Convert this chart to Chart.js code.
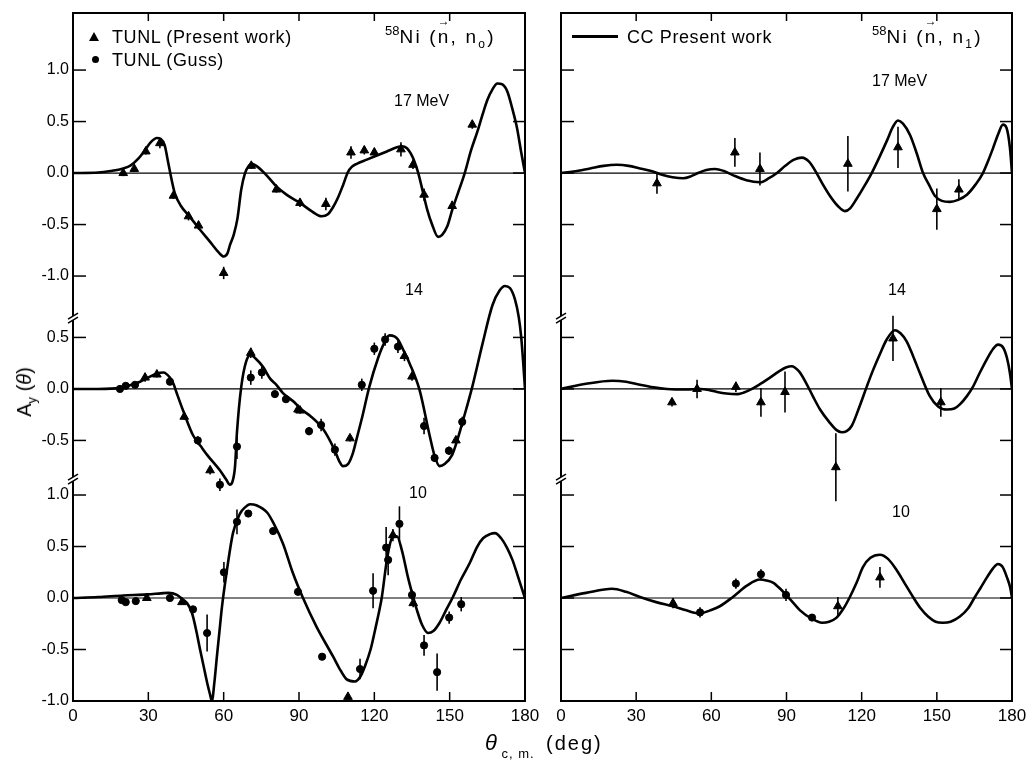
<!DOCTYPE html>
<html>
<head>
<meta charset="utf-8">
<title>58Ni analyzing power</title>
<script src="https://cdn.jsdelivr.net/npm/chart.js@4.4.1/dist/chart.umd.min.js"></script>
<style>
  body { margin: 0; background: #fff; }
  #page { position: relative; width: 1029px; height: 761px; overflow: hidden;
          font-family: "Liberation Sans", Arial, sans-serif; color: #000; }
  canvas { position: absolute; top: 0; }
  .t { position: absolute; white-space: nowrap; line-height: 1; }
  .sub { font-size: 12px; position: relative; top: 5px; }
  .sup { font-size: 13px; position: relative; top: -8px; letter-spacing: 0; }
  .ttl { font-size: 19px; letter-spacing: 2.2px; }
  .vec { position: relative; }
  .vec b { position: absolute; left: 0; top: -11px; font-size: 12px; font-weight: normal; }
</style>
</head>
<body>
<div id="page">
  <canvas id="chartN0" width="540" height="761" style="left:0"></canvas>
  <canvas id="chartN1" width="489" height="761" style="left:540px"></canvas>

  <!-- legend, left panel -->
  <div class="t" style="left:89px;top:32px;width:0;height:0;border-left:5px solid transparent;border-right:5px solid transparent;border-bottom:9px solid #000"></div>
  <div class="t" style="left:112px;top:28px;font-size:18px;letter-spacing:0.6px">TUNL (Present work)</div>
  <div class="t" style="left:92px;top:56px;width:7px;height:7px;border-radius:50%;background:#000"></div>
  <div class="t" style="left:112px;top:51px;font-size:18px;letter-spacing:0.6px">TUNL (Guss)</div>
  <div class="t ttl" style="left:385px;top:27px"><span class="sup">58</span>Ni (<span class="vec">n<b>&#8594;</b></span>, n<span class="sub">o</span>)</div>

  <!-- legend, right panel -->
  <div class="t" style="left:572px;top:35px;width:46px;height:3px;background:#000"></div>
  <div class="t" style="left:627px;top:28px;font-size:18px;letter-spacing:0.6px">CC Present work</div>
  <div class="t ttl" style="left:872px;top:27px"><span class="sup">58</span>Ni (<span class="vec">n<b>&#8594;</b></span>, n<span class="sub">1</span>)</div>

  <!-- energies -->
  <div class="t" style="left:394px;top:93px;font-size:16px">17 MeV</div>
  <div class="t" style="left:405px;top:282px;font-size:16px">14</div>
  <div class="t" style="left:409px;top:485px;font-size:16px">10</div>
  <div class="t" style="left:872px;top:73px;font-size:16px">17 MeV</div>
  <div class="t" style="left:888px;top:282px;font-size:16px">14</div>
  <div class="t" style="left:892px;top:504px;font-size:16px">10</div>

  <!-- axis titles -->
  <div class="t" style="left:24px;top:392px;font-size:20px;transform:translate(-50%,-50%) rotate(-90deg)">A<span class="sub" style="font-size:13px">y</span> (<i>&#952;</i>)</div>
  <div class="t" style="left:485px;top:732px;font-size:22px"><i>&#952;</i><span class="sub" style="font-size:13px;top:8px;letter-spacing:1px"> c, m.</span></div>
  <div class="t" style="left:546px;top:733px;font-size:20px;letter-spacing:2px">(deg)</div>
</div>

<script>
var angleTicks = [0, 30, 60, 90, 120, 150, 180];
var yMin = -1.0, yMax = 5.68;
// each energy block sits on the shared axis at its own zero
var shift17 = 4.126, shift14 = 2.03, shift10 = 0;
var localTicks17 = [-1.0, -0.5, 0.0, 0.5, 1.0];
var localTicks14 = [-0.5, 0.0, 0.5];
var localTicks10 = [-1.0, -0.5, 0.0, 0.5, 1.0];
var breakMarks = [1.155, 2.718];

// ---- 58Ni(n,n0) : CC curves [angle, Ay]
var n0Curve17 = [[0,0],[10,0.005],[15,0.02],[20,0.045],[23,0.075],[26,0.14],[28,0.2],[31,0.3],[33.4,0.34],[35,0.33],[36.5,0.27],[38,0.09],[39.4,-0.08],[40.6,-0.2],[43,-0.32],[46,-0.41],[50.6,-0.55],[55,-0.68],[58,-0.77],[60,-0.81],[61.5,-0.78],[62.5,-0.7],[64,-0.6],[65.5,-0.44],[67,-0.16],[68.5,0.0],[70,0.07],[71,0.09],[73,0.07],[77,-0.02],[81,-0.13],[85,-0.21],[90.4,-0.29],[95,-0.37],[99,-0.42],[101.5,-0.4],[103.6,-0.33],[105.5,-0.24],[107.5,-0.12],[109.5,0.01],[111,0.06],[113,0.09],[117,0.13],[121,0.17],[125,0.21],[129,0.25],[131,0.26],[133,0.24],[134.5,0.19],[136,0.11],[137.5,0.0],[139.4,-0.19],[141,-0.35],[143,-0.5],[145.4,-0.62],[147,-0.6],[149,-0.52],[151,-0.36],[153.5,-0.18],[156,0.0],[158.5,0.22],[161,0.4],[163,0.56],[165,0.71],[167,0.81],[169,0.87],[171,0.86],[173,0.79],[175,0.62],[176.8,0.44],[178.5,0.2],[180,0.0]];
var n0Curve14 = [[0,0],[10,0.0],[18.7,0.01],[22,0.03],[26.7,0.07],[30,0.11],[33.4,0.15],[36,0.16],[38.6,0.11],[40,0.05],[41.3,-0.04],[44,-0.22],[47.8,-0.45],[51,-0.56],[53.4,-0.64],[58.5,-0.79],[61,-0.88],[62.5,-0.93],[63.5,-0.9],[64.5,-0.76],[65.3,-0.42],[67,0.02],[69,0.27],[70.8,0.33],[72.5,0.3],[75.8,0.21],[78.5,0.1],[81,0.04],[83.6,-0.04],[87.7,-0.12],[91,-0.2],[94.4,-0.26],[99.6,-0.39],[104.3,-0.6],[106,-0.7],[107.5,-0.75],[109.5,-0.73],[111.5,-0.62],[113,-0.48],[115,-0.29],[118,0.02],[121.5,0.3],[124,0.45],[126,0.52],[128,0.51],[129.4,0.48],[131.5,0.38],[134,0.25],[138,-0.01],[142,-0.45],[144,-0.65],[146,-0.75],[148,-0.73],[151,-0.64],[153,-0.5],[155.5,-0.29],[159,0.02],[163,0.43],[167,0.81],[170,0.96],[172,1.0],[174,0.98],[176,0.87],[177.5,0.7],[178.5,0.5],[179.3,0.25],[180,0.0]];
var n0Curve10 = [[0,0],[10,0.01],[20,0.025],[29.4,0.035],[35,0.045],[38,0.05],[41.4,0.03],[43.5,-0.01],[45.4,-0.05],[47,-0.12],[47.8,-0.18],[49.2,-0.33],[50.6,-0.5],[52,-0.66],[53.4,-0.82],[54.5,-0.93],[55.3,-1.0],[56.3,-0.82],[57.3,-0.57],[58.3,-0.33],[59.3,-0.09],[61.3,0.27],[63.7,0.63],[66.5,0.82],[68.5,0.88],[70.5,0.91],[73,0.9],[77.3,0.83],[80,0.72],[83.6,0.53],[87.6,0.24],[91.6,0.0],[97,-0.28],[103.6,-0.57],[106,-0.68],[109,-0.79],[112.3,-0.81],[114.5,-0.76],[116.3,-0.66],[118.5,-0.5],[120.3,-0.31],[122,-0.12],[123,0.01],[125,0.37],[127,0.58],[129,0.6],[131,0.46],[133.4,0.2],[135,0.05],[137,-0.12],[139,-0.26],[141.4,-0.34],[143.5,-0.32],[146,-0.24],[148.5,-0.12],[151.3,0.01],[154.5,0.18],[158,0.34],[161,0.5],[163.3,0.58],[166,0.62],[168,0.63],[170.5,0.58],[172.8,0.49],[175,0.37],[176.8,0.24],[178.5,0.11],[180,0.0]];

// ---- 58Ni(n,n0) : data [angle, Ay, error]
var n0Tri17 = [[20,0.0,0.03],[24.4,0.04,0.03],[29,0.21,0.03],[34.6,0.29,0.05],[40,-0.22,0.03],[46,-0.42,0.04],[50,-0.51,0.04],[60,-0.97,0.06],[71,0.07,0.03],[81,-0.16,0.03],[90.4,-0.29,0.04],[100.7,-0.3,0.06],[110.7,0.2,0.06],[116,0.22,0.04],[120,0.2,0.03],[130.6,0.23,0.07],[135.4,0.08,0.04],[139.8,-0.21,0.06],[151,-0.32,0.05],[159,0.47,0.04]];
var n0Tri14 = [[28.7,0.11,0.04],[33.4,0.14,0.03],[44.3,-0.27,0.03],[54.6,-0.79,0.04],[70.8,0.35,0.05],[89.6,-0.2,0.03],[90.4,-0.21,0.03],[110.3,-0.48,0.03],[132,0.32,0.05],[135,0.12,0.04],[152.5,-0.5,0.04]];
var n0Dot14 = [[18.7,0.0,0.02],[21,0.03,0.02],[24.7,0.04,0.02],[38.6,0.07,0.03],[49.7,-0.5,0.04],[58.5,-0.93,0.06],[65.3,-0.56,0.12],[70.8,0.11,0.07],[75.2,0.16,0.06],[80.4,-0.05,0.03],[84.8,-0.1,0.03],[94,-0.41,0.04],[98.8,-0.35,0.06],[104.3,-0.59,0.06],[115,0.04,0.06],[120,0.39,0.06],[124.3,0.48,0.06],[129.4,0.41,0.06],[139.8,-0.36,0.08],[144,-0.67,0.04],[149.7,-0.6,0.04],[155,-0.32,0.05]];
var n0Tri10 = [[29.4,0.0,0.02],[43.4,-0.04,0.02],[109.5,-0.96,0],[127.4,0.61,0.06],[135.5,-0.05,0.04]];
var n0Dot10 = [[19.4,-0.02,0.02],[21,-0.04,0.02],[25,-0.03,0.02],[38.6,0.0,0.02],[47.8,-0.11,0.03],[53.4,-0.34,0.18],[60.1,0.25,0.1],[65.3,0.74,0.12],[69.8,0.82,0.03],[79.7,0.65,0.03],[89.6,0.06,0.03],[99.2,-0.57,0],[114.3,-0.69,0.1],[119.5,0.07,0.17],[124.7,0.49,0.2],[125.5,0.37,0.15],[130,0.72,0.17],[135,0.03,0.05],[139.8,-0.46,0.1],[145,-0.72,0.18],[149.8,-0.19,0.06],[154.6,-0.06,0.07]];

// ---- 58Ni(n,n1) : CC curves
var n1Curve17 = [[0,0],[5,0.015],[11.6,0.045],[17,0.07],[22.3,0.08],[27,0.07],[31.5,0.045],[36,0.02],[40.7,-0.02],[44.5,-0.04],[48.7,-0.05],[52,-0.03],[54.7,0.0],[58,0.03],[61.5,0.04],[65,0.02],[68.6,-0.02],[74,-0.07],[79.4,-0.09],[83,-0.05],[86.2,0.0],[89.5,0.07],[93,0.13],[96.2,0.15],[99,0.11],[102,0.0],[104.5,-0.11],[107.3,-0.22],[110.5,-0.32],[113.3,-0.37],[115.5,-0.34],[118,-0.25],[121,-0.13],[124,0.0],[127,0.15],[130,0.31],[132.5,0.45],[134.5,0.51],[136.5,0.48],[139.3,0.37],[142,0.19],[144.5,0.0],[147,-0.12],[149.2,-0.22],[152,-0.27],[155.2,-0.28],[158.5,-0.26],[162,-0.21],[165.5,-0.11],[168.4,0.0],[170.5,0.12],[172.4,0.24],[174.5,0.38],[176.4,0.47],[177.8,0.44],[179.2,0.24],[180,0.0]];
var n1Curve14 = [[0,0],[10,0.05],[20.4,0.08],[26,0.07],[31.5,0.04],[37,0.015],[42.3,0.0],[50,-0.005],[55.5,0.0],[59,-0.01],[62.3,-0.03],[66,-0.045],[70.6,-0.05],[73,-0.035],[75.4,-0.01],[79,0.04],[83.4,0.11],[87,0.17],[90,0.21],[92,0.22],[95,0.17],[98,0.05],[100.5,-0.07],[103.4,-0.2],[107,-0.32],[110,-0.4],[112,-0.42],[114,-0.41],[116,-0.36],[119,-0.18],[122,0.02],[124.5,0.18],[127.3,0.34],[130,0.48],[133.3,0.57],[135.5,0.54],[138,0.46],[140.5,0.32],[143.3,0.15],[147.2,-0.07],[150.5,-0.17],[154,-0.2],[157,-0.19],[159.2,-0.15],[162,-0.07],[164.4,0.02],[167,0.15],[170,0.29],[172.5,0.39],[174.4,0.43],[176.5,0.4],[178,0.3],[179.2,0.15],[180,0.0]];
var n1Curve10 = [[0,0],[10,0.05],[20.4,0.09],[26,0.06],[31.5,0.01],[38,-0.04],[44.7,-0.08],[50,-0.12],[55.5,-0.15],[59.5,-0.12],[63.4,-0.08],[68.6,0.01],[74.2,0.12],[79.4,0.18],[82,0.17],[84.6,0.15],[87.5,0.09],[90.2,0.02],[92.8,-0.05],[95.4,-0.12],[100,-0.2],[104.2,-0.24],[107,-0.23],[110,-0.19],[112.8,-0.1],[115.3,0.01],[118,0.15],[120.5,0.3],[123.5,0.39],[127.3,0.42],[130.5,0.38],[134,0.27],[137,0.15],[140.5,0.01],[143.5,-0.1],[146.5,-0.18],[149.5,-0.23],[152.4,-0.24],[155.5,-0.23],[159.2,-0.18],[162.5,-0.1],[165.2,0.01],[167.5,0.1],[170,0.2],[172.5,0.29],[174.4,0.33],[176.3,0.3],[178,0.2],[179.3,0.1],[180,0.0]];

// ---- 58Ni(n,n1) : data
var n1Tri17 = [[38.3,-0.1,0.1],[69.4,0.2,0.14],[79.4,0.04,0.16],[114.5,0.09,0.27],[134.5,0.25,0.2],[150,-0.35,0.2],[158.8,-0.16,0.1]];
var n1Tri14 = [[44.3,-0.13,0.04],[54.3,0.0,0.09],[69.8,0.02,0.05],[79.8,-0.13,0.14],[89.4,-0.03,0.2],[109.7,-0.76,0.33],[132.5,0.49,0.22],[151.6,-0.13,0.14]];
var n1Tri10 = [[44.7,-0.05,0.05],[110.5,-0.08,0.09],[127.3,0.2,0.1]];
var n1Dot10 = [[55.5,-0.14,0.05],[69.8,0.14,0.05],[79.8,0.23,0.05],[89.8,0.03,0.06],[100.2,-0.19,0.03]];

var fontName = '"Liberation Sans", Arial, sans-serif';

var yTickEntries = [].concat(
  localTicks10.map(function (v) { return { value: v + shift10, label: v }; }),
  localTicks14.map(function (v) { return { value: v + shift14, label: v }; }),
  localTicks17.map(function (v) { return { value: v + shift17, label: v }; })
);

function blockSets(shift, curve, tri, dot) {
  var sets = [];
  sets.push({ data: [{ x: 0, y: shift }, { x: 180, y: shift }], showLine: true,
              borderColor: '#000', borderWidth: 1.2, pointRadius: 0 });
  sets.push({ data: curve.map(function (p) { return { x: p[0], y: p[1] + shift }; }),
              showLine: true, borderColor: '#000', borderWidth: 2.6, pointRadius: 0,
              cubicInterpolationMode: 'monotone' });
  if (tri) sets.push({ data: tri.map(function (p) { return { x: p[0], y: p[1] + shift }; }),
              errs: tri.map(function (p) { return p[2]; }),
              pointStyle: 'triangle', pointRadius: 5, backgroundColor: '#000',
              borderColor: '#000', borderWidth: 1, clip: 10 });
  if (dot) sets.push({ data: dot.map(function (p) { return { x: p[0], y: p[1] + shift }; }),
              errs: dot.map(function (p) { return p[2]; }),
              pointStyle: 'circle', pointRadius: 3.6, backgroundColor: '#000',
              borderColor: '#000', borderWidth: 1, clip: 10 });
  return sets;
}

function line(ctx, x1, y1, x2, y2) {
  ctx.beginPath(); ctx.moveTo(x1, y1); ctx.lineTo(x2, y2); ctx.stroke();
}

var errorBars = {
  id: 'errorBars',
  beforeDatasetsDraw: function (chart) {
    var ctx = chart.ctx, xs = chart.scales.x, ys = chart.scales.y;
    ctx.save();
    ctx.strokeStyle = '#000';
    ctx.lineWidth = 1.6;
    chart.data.datasets.forEach(function (ds) {
      if (!ds.errs) return;
      ds.data.forEach(function (p, i) {
        var e = ds.errs[i];
        if (!e) return;
        var x = xs.getPixelForValue(p.x);
        line(ctx, x, ys.getPixelForValue(p.y - e), x, ys.getPixelForValue(p.y + e));
      });
    });
    ctx.restore();
  }
};

var frame = {
  id: 'frame',
  afterDraw: function (chart) {
    var ctx = chart.ctx, a = chart.chartArea, xs = chart.scales.x, ys = chart.scales.y;
    ctx.save();
    ctx.strokeStyle = '#000';
    ctx.lineWidth = 1.5;
    angleTicks.forEach(function (v) {
      var x = xs.getPixelForValue(v);
      line(ctx, x, a.bottom, x, a.bottom - 9);
      line(ctx, x, a.top, x, a.top + 8);
    });
    yTickEntries.forEach(function (t) {
      var y = ys.getPixelForValue(t.value);
      line(ctx, a.left, y, a.left + 13, y);
      line(ctx, a.right, y, a.right - 12, y);
    });
    ctx.lineWidth = 2;
    ctx.strokeRect(a.left, a.top, a.right - a.left, a.bottom - a.top);
    // axis breaks
    breakMarks.forEach(function (v) {
      var y = ys.getPixelForValue(v);
      ctx.fillStyle = '#fff';
      ctx.fillRect(a.left - 3, y - 2, 6, 4);
      ctx.lineWidth = 1.5;
      line(ctx, a.left - 5, y + 1, a.left + 5, y - 5);
      line(ctx, a.left - 5, y + 5, a.left + 5, y - 1);
    });
    ctx.restore();
  }
};

function buildChart(id, blocks, showYLabels, yWidth, padRight) {
  var datasets = [];
  blocks.forEach(function (b) { datasets = datasets.concat(blockSets(b[0], b[1], b[2], b[3])); });
  return new Chart(document.getElementById(id), {
    type: 'scatter',
    data: { datasets: datasets },
    options: {
      responsive: false,
      animation: false,
      events: [],
      layout: { padding: { top: 13, right: padRight, left: 0, bottom: 0 } },
      plugins: { legend: { display: false }, tooltip: { enabled: false } },
      scales: {
        x: {
          type: 'linear', min: 0, max: 180,
          afterBuildTicks: function (s) { s.ticks = angleTicks.map(function (v) { return { value: v }; }); },
          afterFit: function (s) { s.height = 60; s.paddingLeft = 0; s.paddingRight = 0; },
          grid: { display: false, drawTicks: false },
          border: { display: false },
          ticks: { color: '#000', padding: 5, maxRotation: 0, autoSkip: false,
                   font: { family: fontName, size: 17 } }
        },
        y: {
          type: 'linear', min: yMin, max: yMax,
          afterBuildTicks: function (s) { s.ticks = yTickEntries.map(function (t) { return { value: t.value }; }); },
          afterFit: function (s) { s.width = yWidth; s.paddingTop = 0; s.paddingBottom = 0; },
          grid: { display: false, drawTicks: false },
          border: { display: false },
          ticks: { display: showYLabels, color: '#000', padding: 4, autoSkip: false,
                   font: { family: fontName, size: 16 },
                   callback: function (value, index) { return yTickEntries[index].label.toFixed(1); } }
        }
      }
    },
    plugins: [errorBars, frame]
  });
}

buildChart('chartN0', [
  [shift17, n0Curve17, n0Tri17, null],
  [shift14, n0Curve14, n0Tri14, n0Dot14],
  [shift10, n0Curve10, n0Tri10, n0Dot10]
], true, 73, 15);

buildChart('chartN1', [
  [shift17, n1Curve17, n1Tri17, null],
  [shift14, n1Curve14, n1Tri14, null],
  [shift10, n1Curve10, n1Tri10, n1Dot10]
], false, 21, 17);
</script>
</body>
</html>
